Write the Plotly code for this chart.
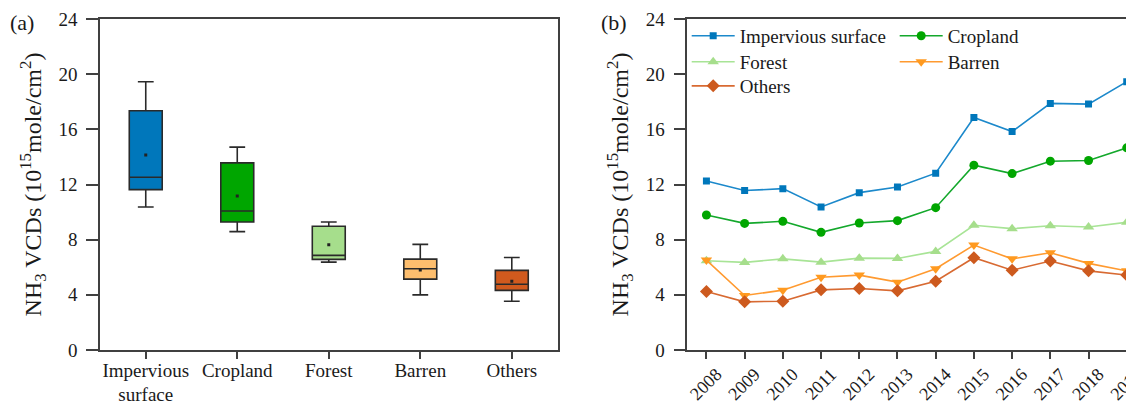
import plotly.graph_objects as go

# ---------------- data ----------------
categories = ["Impervious surface", "Cropland", "Forest", "Barren", "Others"]
cat_labels = ["Impervious<br>surface", "Cropland", "Forest", "Barren", "Others"]

# box statistics (panel a)
box_upper = [19.45, 14.71, 9.28, 7.66, 6.71]
box_q3 = [17.35, 13.57, 8.97, 6.59, 5.77]
box_median = [12.53, 10.08, 6.86, 5.89, 4.77]
box_q1 = [11.63, 9.28, 6.57, 5.14, 4.32]
box_lower = [10.37, 8.58, 6.37, 4.00, 3.54]
box_mean = [14.13, 11.17, 7.63, 5.80, 4.99]

# yearly series (panel b)
years = [2008, 2009, 2010, 2011, 2012, 2013, 2014, 2015, 2016, 2017, 2018, 2019]
impervious = [12.25, 11.56, 11.70, 10.37, 11.41, 11.82, 12.82, 16.86, 15.84, 17.88, 17.83, 19.45]
cropland = [9.79, 9.18, 9.33, 8.53, 9.21, 9.38, 10.32, 13.40, 12.79, 13.69, 13.74, 14.66]
forest = [6.47, 6.35, 6.61, 6.37, 6.66, 6.64, 7.15, 9.04, 8.80, 9.01, 8.92, 9.26]
barren = [6.52, 3.95, 4.34, 5.28, 5.43, 4.92, 5.89, 7.61, 6.61, 7.05, 6.28, 5.74]
others = [4.24, 3.49, 3.54, 4.36, 4.46, 4.29, 4.99, 6.69, 5.79, 6.45, 5.74, 5.43]

# ---------------- styles ----------------
box_fill = ["#0077BB", "#00A600", "#A6DE8C", "#FDBE6E", "#D15A1E"]
line_colors = ["#1C89CB", "#14A82C", "#A8E496", "#FF9A30", "#D86A32"]
marker_colors = ["#0077BB", "#00A600", "#A6DE8C", "#FF9A20", "#CD5A1E"]
symbols = ["square", "circle", "triangle-up", "triangle-down", "diamond"]
msizes = [7, 9, 10, 10, 10]
legend_ids = ["legend", "legend", "legend2", "legend2", "legend3"]

FONT = "Liberation Serif"
TXT = "#1a1a1a"
AX = "#404040"

fig = go.Figure()

# ---------------- panel (a): boxes ----------------
for i, c in enumerate(categories):
    fig.add_trace(go.Box(
        x=[cat_labels[i]],
        q1=[box_q1[i]], median=[box_median[i]], q3=[box_q3[i]],
        lowerfence=[box_lower[i]], upperfence=[box_upper[i]],
        fillcolor=box_fill[i],
        line=dict(color="#2a2a2a", width=1.6),
        width=0.36, whiskerwidth=0.48,
        boxpoints=False, showlegend=False,
        xaxis="x", yaxis="y", hoverinfo="skip",
    ))
fig.add_trace(go.Scatter(
    x=cat_labels, y=box_mean, mode="markers",
    marker=dict(symbol="square", size=3, color="#222222"),
    showlegend=False, xaxis="x", yaxis="y", hoverinfo="skip",
))

# ---------------- panel (b): lines ----------------
series = [impervious, cropland, forest, barren, others]
for i, (name, vals) in enumerate(zip(categories, series)):
    fig.add_trace(go.Scatter(
        x=years, y=vals, name=name, mode="lines+markers",
        line=dict(color=line_colors[i], width=1.6),
        marker=dict(symbol=symbols[i], size=msizes[i], color=marker_colors[i]),
        xaxis="x2", yaxis="y2", legend=legend_ids[i],
    ))

line_common = dict(
    showline=True, linecolor=AX, linewidth=1.6,
    ticks="outside", tickwidth=1.5, tickcolor=AX,
    showgrid=False, zeroline=False,
)
xfont = dict(family=FONT, size=19, color=TXT)
yfont = dict(family=FONT, size=19, color=TXT)
ytitle = dict(
    text="NH<sub>3</sub> VCDs (10<sup>15</sup>mole/cm<sup>2</sup>)",
    font=dict(family=FONT, size=24, color=TXT), standoff=10,
)
legend_common = dict(
    orientation="h", yanchor="top", xanchor="left",
    font=dict(family=FONT, size=19, color=TXT),
    bgcolor="rgba(0,0,0,0)", itemwidth=43,
    entrywidth=150, entrywidthmode="pixels",
)

fig.update_layout(
    width=1126, height=395,
    margin=dict(l=92, r=0, t=11, b=53, autoexpand=False),
    paper_bgcolor="white", plot_bgcolor="white",
    boxmode="overlay",
    font=dict(family=FONT, color=TXT),
    xaxis=dict(domain=[0, 0.4425], type="category", range=[-0.5, 4.5],
               mirror=True, automargin=False, ticklen=7,
               ticklabelstandoff=-5, tickfont=xfont, **line_common),
    yaxis=dict(domain=[0, 1], range=[0, 24], dtick=4, mirror=True,
               ticklen=12, ticklabelstandoff=5, tickfont=yfont,
               title=ytitle, automargin=False, **line_common),
    xaxis2=dict(domain=[0.568, 1], range=[2007.5, 2019.19], tickmode="array",
                tickvals=years, ticktext=[str(y) for y in years], tickangle=-45,
                mirror=True, anchor="y2", automargin=False, ticklen=7,
                ticklabelstandoff=-2, ticklabelshift=10,
                ticklabeloverflow="allow",
                tickfont=dict(family=FONT, size=18, color=TXT), **line_common),
    yaxis2=dict(domain=[0, 1], range=[0, 24], dtick=4, anchor="x2",
                ticklen=12, ticklabelstandoff=5, tickfont=yfont,
                title=ytitle, automargin=False, **line_common),
    legend=dict(x=0.5674, y=1.0063, **legend_common),
    legend2=dict(x=0.5674, y=0.9276, **legend_common),
    legend3=dict(x=0.5674, y=0.8550, **legend_common),
    annotations=[
        dict(text="(a)", x=-0.075, y=0.9888, xref="paper", yref="paper",
             xanchor="center", yanchor="middle",
             showarrow=False, font=dict(family=FONT, size=22, color=TXT)),
        dict(text="(b)", x=0.4971, y=0.9888, xref="paper", yref="paper",
             xanchor="center", yanchor="middle",
             showarrow=False, font=dict(family=FONT, size=22, color=TXT)),
    ],
)

fig.write_html("out.html")
